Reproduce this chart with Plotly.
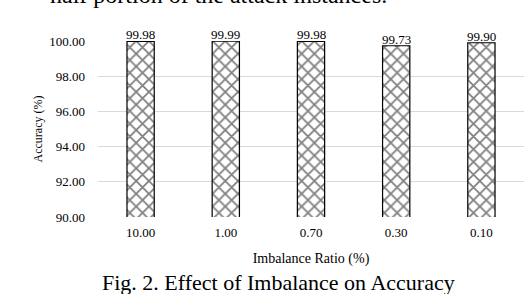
import plotly.graph_objects as go

categories = ["10.00", "1.00", "0.70", "0.30", "0.10"]
accuracy = [99.98, 99.99, 99.98, 99.73, 99.90]
y_ticks = [90, 92, 94, 96, 98, 100]

FONT = "Liberation Serif, Times New Roman, serif"

fig = go.Figure()
fig.add_trace(go.Bar(
    x=categories, y=accuracy,
    marker=dict(color="white", line=dict(color="black", width=1.2),
                pattern=dict(shape="x", fgcolor="black", bgcolor="white", size=9, solidity=0.35)),
    showlegend=False, hoverinfo="skip",
))

# category axis positions are the category indices
annotations = [
    dict(x=i, y=v, xref="x", yref="y", text=f"{v:.2f}", showarrow=False,
         xanchor="center", yanchor="bottom", yshift=-3,
         font=dict(family=FONT, size=13, color="black"))
    for i, v in enumerate(accuracy)
]
annotations += [
    dict(text="half portion of the attack instances.", xref="paper", yref="paper",
         x=(218 - 98) / 426, y=(217 - 10) / 176, xanchor="center", yanchor="bottom",
         showarrow=False, font=dict(family=FONT, size=24, color="black")),
    dict(text="Fig. 2. Effect of Imbalance on Accuracy", xref="paper", yref="paper",
         x=(278 - 98) / 426, y=(217 - 297) / 176, xanchor="center", yanchor="bottom",
         showarrow=False, font=dict(family=FONT, size=22, color="black")),
]

fig.update_layout(
    width=524, height=294,
    margin=dict(l=98, r=0, t=41, b=77),
    paper_bgcolor="white", plot_bgcolor="white",
    bargap=0.68, showlegend=False,
    font=dict(family=FONT, color="black"),
    xaxis=dict(type="category", showline=False, ticks="", showgrid=False,
               range=[-0.5, len(categories) - 0.5], ticklabelstandoff=6,
               tickfont=dict(family=FONT, size=13),
               title=dict(text="Imbalance Ratio (%)", font=dict(family=FONT, size=14), standoff=14)),
    yaxis=dict(range=[90, 100], tickvals=y_ticks, ticktext=[f"{v:.2f}" for v in y_ticks],
               showgrid=True, gridcolor="#d9d9d9", gridwidth=1, zeroline=False, showline=False,
               tickfont=dict(family=FONT, size=13), ticks="", ticklabelstandoff=12,
               title=dict(text="Accuracy (%)", font=dict(family=FONT, size=12), standoff=4)),
    annotations=annotations,
)

fig.write_html("out.html", config={"displayModeBar": False},
               post_script="document.body.style.margin='0';")
